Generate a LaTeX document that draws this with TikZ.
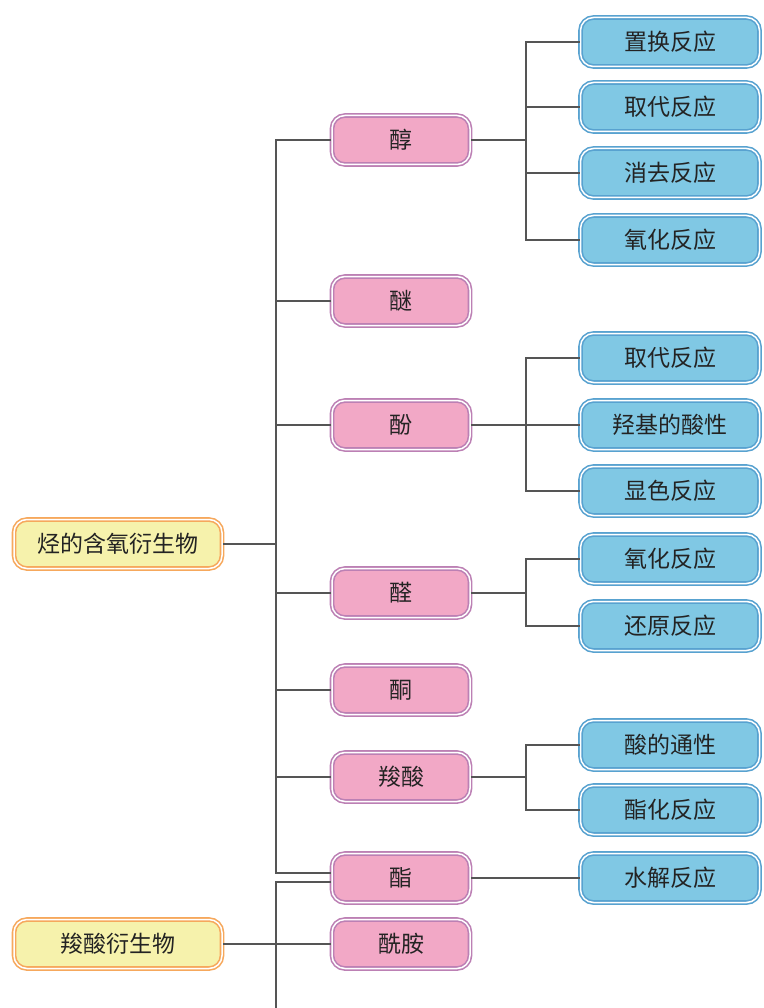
\documentclass[tikz,border=0pt]{standalone}
\usepackage{fontspec}
\newfontfamily\cjk{Noto Sans CJK SC}
\definecolor{bfill}{RGB}{128,200,228}
\definecolor{bline}{RGB}{88,162,208}
\definecolor{pfill}{RGB}{242,168,198}
\definecolor{pline}{RGB}{188,128,180}
\definecolor{yfill}{RGB}{246,242,172}
\definecolor{yline}{RGB}{246,168,92}
\definecolor{conn}{RGB}{85,85,85}
\definecolor{txt}{RGB}{35,35,35}
\tikzset{
  box/.style={rounded corners=13pt, line width=1.6pt, double=white, double distance=1.5pt,
    minimum height=49pt, inner sep=0pt, text=txt,
    font=\cjk\fontsize{23}{26}\selectfont},
  bluebox/.style={box, draw=bline, fill=bfill, minimum width=179pt},
  pinkbox/.style={box, draw=pline, fill=pfill, minimum width=138pt},
  yellowbox/.style={box, draw=yline, fill=yfill, minimum width=208pt},
  link/.style={draw=conn, line width=1.3pt}
}
\begin{document}
\begin{tikzpicture}[x=1pt,y=-1pt]
\useasboundingbox (0,0) rectangle (763,1008);
% yellow
\node[yellowbox] (y1) at (118,544) {烃的含氧衍生物};
\node[yellowbox] (y2) at (118,944) {羧酸衍生物};
% pink
\node[pinkbox] (p1) at (401,140) {醇};
\node[pinkbox] (p2) at (401,301) {醚};
\node[pinkbox] (p3) at (401,425) {酚};
\node[pinkbox] (p4) at (401,593) {醛};
\node[pinkbox] (p5) at (401,690) {酮};
\node[pinkbox] (p6) at (401,777) {羧酸};
\node[pinkbox] (p7) at (401,878) {酯};
\node[pinkbox] (p8) at (401,944) {酰胺};
% blue
\node[bluebox] (q1) at (670,42) {置换反应};
\node[bluebox] (q2) at (670,107) {取代反应};
\node[bluebox] (q3) at (670,173) {消去反应};
\node[bluebox] (q4) at (670,240) {氧化反应};
\node[bluebox] (q5) at (670,358) {取代反应};
\node[bluebox] (q6) at (670,425) {羟基的酸性};
\node[bluebox] (q7) at (670,491) {显色反应};
\node[bluebox] (q8) at (670,559) {氧化反应};
\node[bluebox] (q9) at (670,626) {还原反应};
\node[bluebox] (q10) at (670,745) {酸的通性};
\node[bluebox] (q11) at (670,810) {酯化反应};
\node[bluebox] (q12) at (670,878) {水解反应};
% trunk coordinates
\coordinate (t1a) at (276,140);
\coordinate (t1b) at (276,873);
\coordinate (t2a) at (276,882);
\coordinate (t2b) at (276,1010);
\coordinate (b1) at (526,140);
\coordinate (b3) at (526,425);
\coordinate (b4) at (526,593);
\coordinate (b6) at (526,777);
\begin{scope}[link]
% main trunk
\draw (p1.west) -- (t1a) -- (t1b) -- (t1b -| p7.west);
\draw (y1.east) -- (y1.east -| t1a);
\draw (p2.west) -- (p2.west -| t1a);
\draw (p3.west) -- (p3.west -| t1a);
\draw (p4.west) -- (p4.west -| t1a);
\draw (p5.west) -- (p5.west -| t1a);
\draw (p6.west) -- (p6.west -| t1a);
% second trunk
\draw (t2a -| p7.west) -- (t2a) -- (t2b);
\draw (y2.east) -- (p8.west);
% branches
\draw (p1.east) -- (b1);
\draw (q1.west) -| (b1);
\draw (q4.west) -| (b1);
\draw (q2.west) -- (q2.west -| b1);
\draw (q3.west) -- (q3.west -| b1);
\draw (p3.east) -- (q6.west);
\draw (q5.west) -| (b3);
\draw (q7.west) -| (b3);
\draw (p4.east) -- (b4);
\draw (q8.west) -| (b4);
\draw (q9.west) -| (b4);
\draw (p6.east) -- (b6);
\draw (q10.west) -| (b6);
\draw (q11.west) -| (b6);
\draw (p7.east) -- (q12.west);
\end{scope}
\end{tikzpicture}
\end{document}
